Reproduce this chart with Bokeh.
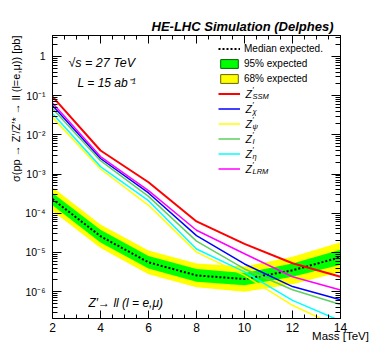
from bokeh.plotting import figure
from bokeh.models import (FixedTicker, LogAxis, LinearAxis, Label, Legend, LegendItem,
                          CustomJSTickFormatter, Range1d, Title)
from bokeh.embed import file_html
from bokeh.resources import INLINE

# ---------------- data ----------------
mass = [2, 4, 6, 8, 10, 12, 14]

median = [2.3e-4, 2.6e-5, 5.6e-6, 2.6e-6, 2.1e-6, 3.5e-6, 7.6e-6]
green_lo = [1.6e-4, 1.8e-5, 3.9e-6, 1.8e-6, 1.45e-6, 2.4e-6, 4.9e-6]
green_hi = [3.3e-4, 3.8e-5, 8.1e-6, 3.8e-6, 3.0e-6, 5.2e-6, 1.17e-5]
yellow_lo = [1.15e-4, 1.3e-5, 2.8e-6, 1.3e-6, 1.0e-6, 1.55e-6, 3.2e-6]
yellow_hi = [4.6e-4, 5.2e-5, 1.12e-5, 5.2e-6, 4.4e-6, 7.8e-6, 1.82e-5]

z_ssm = [0.095, 4.0e-3, 6.2e-4, 6.2e-5, 1.66e-5, 5.3e-6, 2.4e-6]
z_chi = [0.056, 2.5e-3, 3.3e-4, 2.7e-5, 5.1e-6, 1.35e-6, 6.2e-7]
z_psi = [0.028, 1.35e-3, 1.6e-4, 1.02e-5, 2.6e-6, 4.5e-7, 1.2e-7]
z_i = [0.047, 2.2e-3, 2.7e-4, 1.95e-5, 3.8e-6, 1.12e-6, 4.7e-7]
z_eta = [0.035, 1.55e-3, 2.1e-4, 1.23e-5, 3.2e-6, 6.0e-7, 1.8e-7]
z_lrm = [0.065, 2.8e-3, 3.8e-4, 3.7e-5, 9.3e-6, 2.4e-6, 1.1e-6]

x_ticks = [2, 4, 6, 8, 10, 12, 14]
y_ticks = [1e-6, 1e-5, 1e-4, 1e-3, 1e-2, 1e-1, 1.0]

models = [
    ("SSM", z_ssm, "#ff0000", 2.0),
    ("χ", z_chi, "#0000ff", 1.5),
    ("ψ", z_psi, "#ffff00", 1.5),
    ("I", z_i, "#5fcf5f", 1.5),
    ("η", z_eta, "#00ffff", 1.5),
    ("LRM", z_lrm, "#ff00ff", 1.5),
]

FONT = "Liberation Sans"

# ---------------- figure ----------------
p = figure(width=370, height=354, output_backend="svg", toolbar_location=None,
           y_axis_type="log", x_range=Range1d(2, 14), y_range=Range1d(2.07e-7, 3.43),
           min_border_left=52, min_border_right=30, min_border_top=35, min_border_bottom=36,
           x_axis_location=None, y_axis_location=None)
p.outline_line_color = "black"
p.outline_line_width = 1
p.grid.visible = False
p.background_fill_color = "white"

p.title = Title(text="HE-LHC Simulation (Delphes)", align="right", offset=7, standoff=3,
                text_font=FONT, text_font_size="13px", text_font_style="bold italic",
                text_color="black")

minor_x = [2 + 0.5 * k for k in range(25) if k % 4 != 0]
minor_y = [m * 10.0 ** e for e in range(-7, 1) for m in range(2, 10)]

yfmt = CustomJSTickFormatter(code="""
const e = Math.round(Math.log10(tick));
if (e == 0) { return "1"; }
const sup = {"-": "\u207B", "0": "\u2070", "1": "\u00B9", "2": "\u00B2", "3": "\u00B3",
             "4": "\u2074", "5": "\u2075", "6": "\u2076", "7": "\u2077", "8": "\u2078", "9": "\u2079"};
return "10" + String(e).split("").map(c => sup[c]).join("");
""")
blank = CustomJSTickFormatter(code="return '';")

def style_axis(ax, major_in, minor_in, labels=True, size="12px", standoff=4):
    ax.major_tick_in = major_in
    ax.major_tick_out = 0
    ax.minor_tick_in = minor_in
    ax.minor_tick_out = 0
    ax.axis_line_color = "black"
    ax.major_tick_line_color = "black"
    ax.minor_tick_line_color = "black"
    ax.major_label_text_font = FONT
    ax.major_label_text_color = "black"
    ax.major_label_text_font_size = size if labels else "1px"
    ax.major_label_standoff = standoff if labels else 0
    ax.axis_label_text_font = FONT
    ax.axis_label_text_font_style = "normal"
    ax.axis_label_text_color = "black"
    if not labels:
        ax.major_label_text_alpha = 0

xb = LinearAxis(ticker=FixedTicker(ticks=x_ticks, minor_ticks=minor_x))
style_axis(xb, 8, 4, True, "12px", 4)
xb.axis_label = "Mass [TeV]"
xb.axis_label_text_font_size = "11.5px"
xb.axis_label_standoff = -5
if "axis_label_align" in xb.properties():
    xb.axis_label_align = "end"
xb.axis_label_text_align = "right"
yl = LogAxis(ticker=FixedTicker(ticks=y_ticks, minor_ticks=minor_y), formatter=yfmt)
style_axis(yl, 9, 5, True, "10.5px", 7)
yr = LogAxis(ticker=FixedTicker(ticks=y_ticks, minor_ticks=minor_y), formatter=blank)
style_axis(yr, 9, 5, False)
xt = LinearAxis(ticker=FixedTicker(ticks=x_ticks, minor_ticks=minor_x), formatter=blank)
style_axis(xt, 8, 4, False)
p.add_layout(xb, "below")
p.add_layout(xt, "above")
p.add_layout(yl, "left")
p.add_layout(yr, "right")

# y-axis title, aligned to the top end of the axis
p.add_layout(Title(text="\u03C3(pp \u2192 Z\u2032/Z\u2032* \u2192 ll (l=e,\u03BC)) [pb]",
                   align="right", offset=0, standoff=1, text_font=FONT,
                   text_font_size="11px", text_font_style="normal", text_color="black"),
             "left")

# ---------------- bands and lines ----------------
p.varea(x=mass, y1=yellow_lo, y2=yellow_hi, fill_color="#ffff00")
p.varea(x=mass, y1=green_lo, y2=green_hi, fill_color="#00ff00")
r_med = p.line(mass, median, line_color="black", line_width=2, line_dash="2 2")

line_renderers = []
for name, vals, col, lw in models:
    line_renderers.append(p.line(mass, vals, line_color=col, line_width=lw))

# legend swatches for the bands: outlined patches of the bands, hidden in the plot area
r_g = p.patch(x=mass + mass[::-1], y=green_hi + green_lo[::-1],
              fill_color="#00ff00", line_color="#006400", line_width=1, visible=False)
r_y = p.patch(x=mass + mass[::-1], y=yellow_hi + yellow_lo[::-1],
              fill_color="#ffff00", line_color="#666600", line_width=1, visible=False)

items = [LegendItem(label="Median expected.", renderers=[r_med]),
         LegendItem(label="95% expected", renderers=[r_g]),
         LegendItem(label="68% expected", renderers=[r_y])]
for r in line_renderers:
    items.append(LegendItem(label=" ", renderers=[r]))

legend = Legend(items=items, location=(166, 144), padding=0, margin=0, spacing=3,
                glyph_width=22, glyph_height=11, label_height=12, label_standoff=4,
                label_text_font=FONT, label_text_font_size="10px", label_text_color="black",
                border_line_alpha=0, background_fill_alpha=0,
                inactive_fill_alpha=0)
p.add_layout(legend, "center")

# Z' labels with subscripts in the legend
for i, (name, vals, col, lw) in enumerate(models):
    row_y = 270 - 15 * (i + 3)
    p.add_layout(Label(x=193, y=row_y, x_units="screen", y_units="screen", text="Z",
                       text_font=FONT, text_font_style="italic", text_font_size="10.5px",
                       text_baseline="middle", text_color="black"))
    p.add_layout(Label(x=200, y=row_y + 4, x_units="screen", y_units="screen", text="\u2032",
                       text_font=FONT, text_font_size="8px",
                       text_baseline="middle", text_color="black"))
    p.add_layout(Label(x=200, y=row_y - 3, x_units="screen", y_units="screen", text=name,
                       text_font=FONT, text_font_style="italic", text_font_size="7.5px",
                       text_baseline="middle", text_color="black"))

# ---------------- texts inside the frame ----------------
def add_text(x, y, text, size, style="normal"):
    p.add_layout(Label(x=x, y=y, x_units="screen", y_units="screen", text=text,
                       text_font=FONT, text_font_size=size, text_font_style=style,
                       text_baseline="middle", text_color="black"))

add_text(16, 256, "\u221As = 27 TeV", "12.5px", "italic")
add_text(25, 236, "L = 15 ab\u207B\u00B9", "12px", "italic")
add_text(36, 16, "Z\u2032\u2192 ll   (l = e,\u03BC)", "12px", "italic")

open("out.html", "w").write(file_html(p, INLINE))
